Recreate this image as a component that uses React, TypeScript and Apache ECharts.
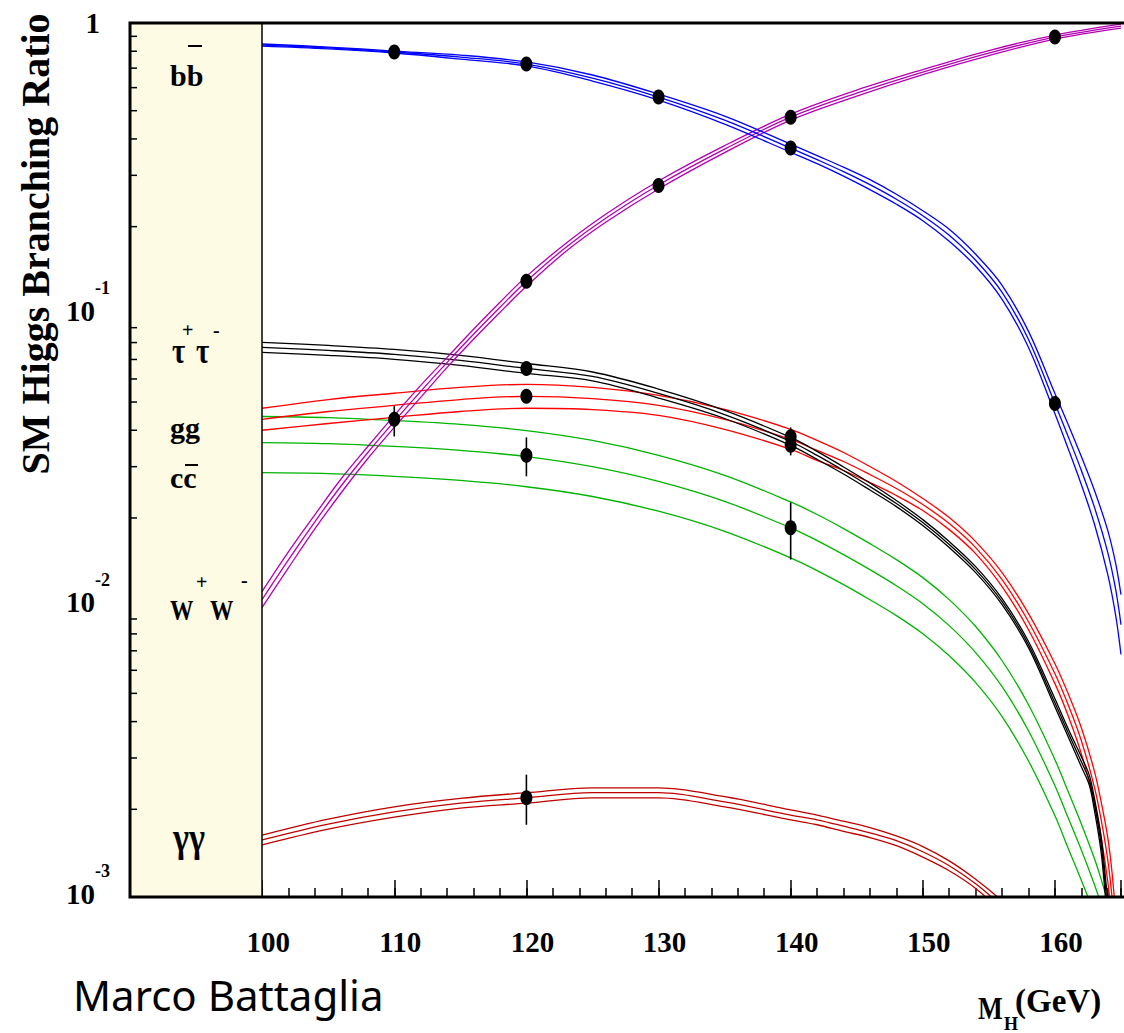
import React, { useEffect, useRef } from 'react';
import * as echarts from 'echarts';

const FONT = "'Liberation Serif', 'Times New Roman', serif";

// ---- axis ranges / ticks ----
const xMin = 90;
const xMax = 165;
const yMinorTicks = [0.002, 0.003, 0.004, 0.005, 0.006, 0.007, 0.008, 0.009,
  0.02, 0.03, 0.04, 0.05, 0.06, 0.07, 0.08, 0.09,
  0.2, 0.3, 0.4, 0.5, 0.6, 0.7, 0.8, 0.9];

// ---- b bbar (blue) ----
const massBB = [100, 105, 110, 115, 120, 125, 130, 135, 140, 142, 144, 146, 148, 150, 152, 154, 156, 158, 160, 161, 162, 163, 164, 164.6, 165];
const bbCentral = [0.840, 0.821, 0.795, 0.764, 0.723, 0.647, 0.557, 0.464, 0.372, 0.3396, 0.3089, 0.2786, 0.2484, 0.2181, 0.1868, 0.1533, 0.1190, 0.0820, 0.0494, 0.0381, 0.0291, 0.0217, 0.01521, 0.01135, 0.0086];
const bbUpper = [0.847, 0.827, 0.801, 0.776, 0.735, 0.663, 0.570, 0.479, 0.384, 0.3505, 0.3201, 0.2899, 0.2584, 0.2269, 0.1959, 0.1607, 0.1258, 0.0874, 0.0535, 0.0419, 0.0325, 0.0248, 0.01810, 0.01394, 0.0109];
const bbLower = [0.833, 0.815, 0.789, 0.752, 0.712, 0.632, 0.544, 0.450, 0.360, 0.3290, 0.2981, 0.2678, 0.2388, 0.2096, 0.1781, 0.1462, 0.1126, 0.0770, 0.0456, 0.0346, 0.0260, 0.0190, 0.01278, 0.00924, 0.0068];

// ---- W+W- (purple) ----
const massWW = [100, 102, 104, 106, 108, 110, 112, 114, 116, 118, 120, 123, 126, 130, 135, 140, 145, 150, 155, 160, 165];
const wwCentral = [0.0105, 0.01439, 0.01944, 0.02585, 0.03355, 0.0429, 0.0544, 0.0684, 0.0854, 0.1057, 0.1298, 0.1699, 0.2137, 0.278, 0.369, 0.475, 0.5745, 0.6785, 0.7887, 0.895, 0.976];
const wwUpper = [0.01119, 0.01533, 0.02055, 0.02732, 0.03518, 0.04498, 0.05704, 0.07116, 0.08885, 0.1100, 0.1350, 0.1754, 0.2206, 0.2869, 0.3794, 0.4864, 0.5883, 0.6921, 0.8045, 0.9093, 0.9916];
const wwLower = [0.00986, 0.01351, 0.01839, 0.02446, 0.03200, 0.04091, 0.05188, 0.06574, 0.08208, 0.1016, 0.1248, 0.1646, 0.2070, 0.2693, 0.3589, 0.4639, 0.5610, 0.6652, 0.7732, 0.8809, 0.9606];

// ---- tau+tau- (black) ----
const massTT = [100, 105, 110, 115, 120, 125, 130, 135, 140, 142, 144, 146, 148, 150, 152, 154, 156, 158, 160, 161, 162, 162.6, 163, 163.5, 163.9, 164.3];
const ttCentral = [0.0770, 0.0752, 0.0729, 0.0695, 0.0652, 0.0612, 0.0535, 0.0453, 0.0366, 0.0328, 0.0291, 0.02564, 0.02241, 0.01928, 0.01621, 0.01329, 0.01032, 0.00735, 0.00464, 0.00366, 0.00291, 0.00252, 0.00207, 0.00151, 0.00100, 0.00070];
const ttUpper = [0.0801, 0.0782, 0.0758, 0.0723, 0.0678, 0.0634, 0.0554, 0.0468, 0.0378, 0.03386, 0.02992, 0.02636, 0.02295, 0.01974, 0.01660, 0.01361, 0.01057, 0.00753, 0.00479, 0.00378, 0.00303, 0.00262, 0.00217, 0.00161, 0.00108, 0.00078];
const ttLower = [0.0740, 0.0723, 0.0701, 0.0668, 0.0627, 0.0591, 0.0516, 0.0439, 0.0355, 0.03178, 0.02830, 0.02494, 0.02188, 0.01883, 0.01583, 0.01298, 0.01008, 0.00718, 0.00450, 0.00355, 0.00280, 0.00242, 0.00197, 0.00142, 0.00092, 0.00063];

// ---- gg (red) ----
const massGG = [100, 105, 110, 115, 120, 125, 130, 135, 140, 142, 144, 146, 148, 150, 152, 154, 156, 158, 160, 161, 162, 163, 163.5, 164, 164.3, 164.6];
const ggCentral = [0.0436, 0.0464, 0.0487, 0.0510, 0.0523, 0.0514, 0.0487, 0.0436, 0.0372, 0.0341, 0.03125, 0.02819, 0.02524, 0.02224, 0.01913, 0.01582, 0.01228, 0.00881, 0.00584, 0.00457, 0.00344, 0.00237, 0.00184, 0.00134, 0.00102, 0.00071];
const ggUpper = [0.0476, 0.0510, 0.0536, 0.0561, 0.0575, 0.0561, 0.0527, 0.0472, 0.0403, 0.03691, 0.03355, 0.03003, 0.02668, 0.02332, 0.02006, 0.01659, 0.01298, 0.00939, 0.00632, 0.00499, 0.00381, 0.00269, 0.00212, 0.00160, 0.00124, 0.00087];
const ggLower = [0.0400, 0.0422, 0.0443, 0.0464, 0.0476, 0.0471, 0.0450, 0.0403, 0.0344, 0.03151, 0.02911, 0.02646, 0.02388, 0.02121, 0.01824, 0.01509, 0.01162, 0.00827, 0.00540, 0.00419, 0.00310, 0.00209, 0.00160, 0.00113, 0.00084, 0.00058];

// ---- c cbar (green) ----
const massCC = [100, 105, 110, 115, 120, 125, 130, 135, 140, 142, 144, 146, 148, 150, 152, 154, 156, 158, 160, 161, 162, 163, 163.5, 164, 164.4];
const ccCentral = [0.0363, 0.0360, 0.0352, 0.0341, 0.0325, 0.0300, 0.0267, 0.0228, 0.0185, 0.01673, 0.01497, 0.01329, 0.01171, 0.01016, 0.00854, 0.00690, 0.00527, 0.00372, 0.00241, 0.00187, 0.00145, 0.00110, 0.00094, 0.00078, 0.00066];
const ccUpper = [0.0446, 0.0442, 0.0432, 0.0419, 0.0399, 0.0369, 0.0328, 0.0280, 0.0227, 0.02055, 0.01839, 0.01633, 0.01439, 0.01248, 0.01049, 0.00848, 0.00647, 0.00457, 0.00296, 0.00230, 0.00178, 0.00135, 0.00115, 0.00096, 0.00081];
const ccLower = [0.0286, 0.0284, 0.0278, 0.0269, 0.0256, 0.0237, 0.0211, 0.0180, 0.0146, 0.01319, 0.01181, 0.01048, 0.00924, 0.00801, 0.00673, 0.00544, 0.00416, 0.00293, 0.00190, 0.00147, 0.00114, 0.00087, 0.00074, 0.00062, 0.00052];

// ---- gamma gamma (dark red) ----
const massAA = [100, 105, 110, 115, 120, 125, 130, 135, 140, 142, 144, 146, 148, 150, 152, 154, 156, 158];
const aaCentral = [0.00157, 0.00178, 0.00196, 0.00210, 0.00219, 0.00228, 0.00228, 0.00212, 0.00191, 0.00184, 0.00175, 0.00166, 0.00156, 0.00143, 0.00128, 0.00111, 0.00093, 0.00077];
const aaUpper = [0.00163, 0.00185, 0.00204, 0.00218, 0.00228, 0.00237, 0.00237, 0.00221, 0.00199, 0.00191, 0.00182, 0.00173, 0.00162, 0.00149, 0.00133, 0.00115, 0.00097, 0.00080];
const aaLower = [0.00151, 0.00171, 0.00188, 0.00202, 0.00210, 0.00219, 0.00219, 0.00204, 0.00184, 0.00177, 0.00168, 0.00160, 0.00150, 0.00137, 0.00123, 0.00107, 0.00089, 0.00074];

// ---- measured points [mass, BR] ----
const pointsBB = [[110, 0.795], [120, 0.723], [130, 0.557], [140, 0.372], [160, 0.0494]];
const pointsWW = [[110, 0.0436], [120, 0.130], [130, 0.277], [140, 0.475], [160, 0.895]];
const pointsTT = [[120, 0.0652], [140, 0.0355]];
const pointsGG = [[120, 0.0523], [140, 0.0380]];
const pointsCC = [[120, 0.0328], [140, 0.0185]];
const pointsAA = [[120, 0.00219]];
// error bars [mass, low, high]
const errorBars = [[110, 0.0381, 0.0484], [120, 0.0278, 0.0378], [140, 0.0144, 0.0226], [120, 0.00177, 0.00263], [140, 0.0328, 0.0409]];

const COLORS = {
  bb: '#0000ff',
  ww: '#b400b4',
  tt: '#000000',
  gg: '#ff0000',
  cc: '#00b400',
  aa: '#c00000',
  panel: '#fdfbe3',
};

function band(mass: number[], values: number[], color: string, width = 1.3) {
  return {
    type: 'line',
    data: mass.map((m, i) => [m, values[i]]),
    showSymbol: false,
    symbol: 'none',
    smooth: 0.35,
    clip: true,
    silent: true,
    z: 2,
    lineStyle: { color, width },
    itemStyle: { color },
  };
}

function dots(points: number[][]) {
  return {
    type: 'scatter',
    data: points,
    symbol: 'circle',
    symbolSize: [12, 15],
    itemStyle: { color: '#000', opacity: 1 },
    z: 6,
    silent: true,
  };
}

function txt(text: string, x: number, y: number, size: number, extra: any = {}) {
  const { style: extraStyle, ...rest } = extra;
  return {
    type: 'text',
    x,
    y,
    z: 50,
    ...rest,
    style: {
      text,
      x: 0,
      y: 0,
      fontSize: size,
      fontWeight: 'bold',
      fontFamily: FONT,
      fill: '#000',
      align: 'left',
      verticalAlign: 'middle',
      textAlign: 'left',
      textVerticalAlign: 'middle',
      ...(extraStyle || {}),
    },
  };
}

export default function App() {
  const ref = useRef<HTMLDivElement>(null);
  useEffect(() => {
    if (!ref.current) return;
    const chart = echarts.init(ref.current, undefined, { renderer: 'svg' });
    const option: any = {
      animation: false,
      backgroundColor: '#ffffff',
      grid: { left: 130, right: -2, top: 23, bottom: 136, show: false },
      xAxis: [
        {
          type: 'value',
          min: xMin,
          max: xMax,
          interval: 10,
          position: 'bottom',
          axisLine: { show: false },
          axisTick: { inside: true, length: 17, lineStyle: { color: '#000', width: 1.5 } },
          splitLine: { show: false },
          axisLabel: {
            margin: 30,
            fontSize: 29,
            fontWeight: 'bold',
            fontFamily: FONT,
            color: '#000',
            padding: [0, 0, 0, 12],
            formatter: (v: number) => {
              const r = Math.round(v);
              return r >= 100 && r <= 160 ? String(r) : '';
            },
          },
        },
        {
          type: 'value',
          min: xMin,
          max: xMax,
          interval: 2,
          position: 'bottom',
          axisLine: { show: false },
          axisTick: { inside: true, length: 9, lineStyle: { color: '#000', width: 1.5 } },
          splitLine: { show: false },
          axisLabel: { show: false },
        },
      ],
      yAxis: {
        type: 'log',
        logBase: 10,
        min: 0.001,
        max: 1,
        axisLine: { show: false },
        axisTick: { inside: true, length: 13, lineStyle: { color: '#000', width: 1.5 } },
        splitLine: { show: false },
        axisLabel: {
          margin: 20,
          color: '#000',
          fontFamily: FONT,
          fontWeight: 'bold',
          formatter: (v: number) => {
            const e = Math.round(Math.log10(v));
            if (e === 0) return '{one|1}';
            return `{n|10}{s|${e}}`;
          },
          rich: {
            one: { fontSize: 29, fontWeight: 'bold', fontFamily: FONT, color: '#000', padding: [0, 10, 0, 0] },
            n: { fontSize: 29, fontWeight: 'bold', fontFamily: FONT, color: '#000', verticalAlign: 'bottom', padding: [0, 0, 24, 0] },
            s: { fontSize: 18, fontWeight: 'bold', fontFamily: FONT, color: '#000', verticalAlign: 'bottom', padding: [0, 0, 52, 0] },
          },
        },
      },
      series: [
        {
          type: 'line',
          data: [],
          z: 1,
          silent: true,
          markArea: {
            silent: true,
            itemStyle: { color: COLORS.panel },
            data: [[{ xAxis: 90 }, { xAxis: 100 }]],
          },
          markLine: {
            silent: true,
            symbol: 'none',
            label: { show: false },
            lineStyle: { color: '#000', width: 1.5, type: 'solid' },
            data: [{ xAxis: 100 }],
          },
        },
        band(massAA, aaUpper, COLORS.aa),
        band(massAA, aaCentral, COLORS.aa),
        band(massAA, aaLower, COLORS.aa),
        band(massCC, ccUpper, COLORS.cc),
        band(massCC, ccCentral, COLORS.cc),
        band(massCC, ccLower, COLORS.cc),
        band(massGG, ggUpper, COLORS.gg),
        band(massGG, ggCentral, COLORS.gg),
        band(massGG, ggLower, COLORS.gg),
        band(massTT, ttUpper, COLORS.tt),
        band(massTT, ttCentral, COLORS.tt),
        band(massTT, ttLower, COLORS.tt),
        band(massWW, wwUpper, COLORS.ww),
        band(massWW, wwCentral, COLORS.ww),
        band(massWW, wwLower, COLORS.ww),
        band(massBB, bbUpper, COLORS.bb),
        band(massBB, bbCentral, COLORS.bb),
        band(massBB, bbLower, COLORS.bb),
        {
          type: 'custom',
          data: errorBars,
          z: 5,
          silent: true,
          renderItem: (params: any, api: any) => {
            const p1 = api.coord([api.value(0), api.value(1)]);
            const p2 = api.coord([api.value(0), api.value(2)]);
            return {
              type: 'line',
              shape: { x1: p1[0], y1: p1[1], x2: p2[0], y2: p2[1] },
              style: { stroke: '#000', lineWidth: 1.6 },
            };
          },
        },
        {
          type: 'custom',
          data: yMinorTicks.map((v) => [xMin, v]),
          z: 7,
          silent: true,
          clip: false,
          renderItem: (params: any, api: any) => {
            const p = api.coord([api.value(0), api.value(1)]);
            return {
              type: 'line',
              shape: { x1: p[0], y1: p[1], x2: p[0] + 7, y2: p[1] },
              style: { stroke: '#000', lineWidth: 1.5 },
            };
          },
        },
        dots(pointsBB),
        dots(pointsWW),
        dots(pointsTT),
        dots(pointsGG),
        dots(pointsCC),
        dots(pointsAA),
      ],
      graphic: [
        {
          type: 'rect',
          z: 100,
          shape: { x: 130, y: 23, width: 996, height: 874 },
          style: { fill: 'none', stroke: '#000', lineWidth: 3 },
          silent: true,
        },
        txt('SM Higgs Branching Ratio', 35, 244, 40, { rotation: Math.PI / 2, style: { align: 'center', textAlign: 'center' } }),
        txt('bb', 170, 75, 30),
        { type: 'line', z: 50, shape: { x1: 188, y1: 46, x2: 202, y2: 46 }, style: { stroke: '#000', lineWidth: 2 } },
        txt('τ', 172, 351, 36, { scaleX: 0.8, style: { lineHeight: 22 } }),
        txt('+', 182, 330, 20, { style: { lineHeight: 12 } }),
        txt('τ', 196, 351, 36, { scaleX: 0.8, style: { lineHeight: 22 } }),
        txt('-', 213, 330, 20, { style: { lineHeight: 12 } }),
        txt('gg', 170, 427, 30),
        txt('cc', 170, 477, 30),
        { type: 'line', z: 50, shape: { x1: 185, y1: 465, x2: 198, y2: 465 }, style: { stroke: '#000', lineWidth: 2 } },
        txt('W', 170, 610, 30, { scaleX: 0.78 }),
        txt('+', 196, 582, 20),
        txt('W', 210, 610, 30, { scaleX: 0.78 }),
        txt('-', 241, 580, 20),
        txt('γγ', 173, 838, 40, { scaleX: 0.85 }),
        txt('M', 978, 1008, 32, { scaleX: 0.82 }),
        txt('H', 1004, 1024, 18),
        txt('(GeV)', 1015, 1001, 33),
        txt('Marco Battaglia', 73, 994, 42, { style: { fontFamily: "'Noto Sans', sans-serif", fontWeight: 'normal' } }),
      ],
    };
    chart.setOption(option);
    return () => chart.dispose();
  }, []);
  return (
    <div
      ref={ref}
      style={{ position: 'absolute', left: 0, top: 0, width: 1124, height: 1033 }}
    />
  );
}
